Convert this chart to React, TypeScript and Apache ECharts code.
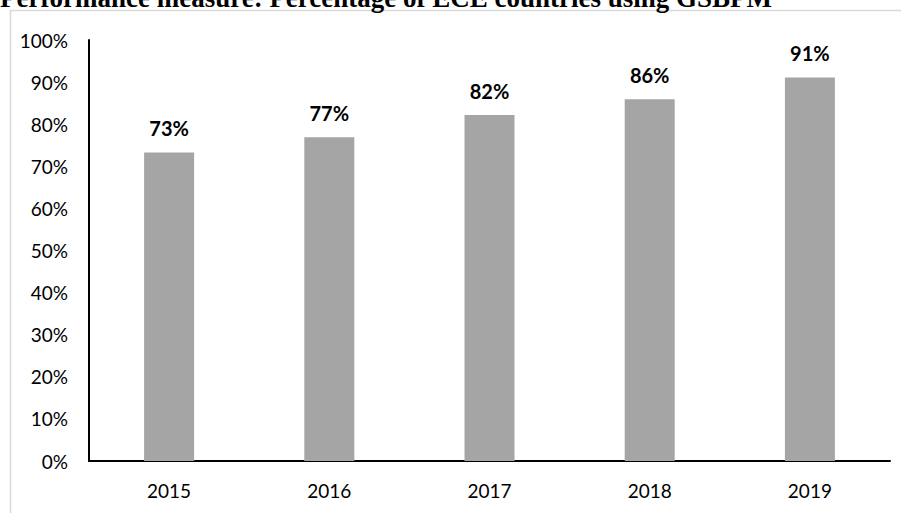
import React, { useEffect, useRef } from "react";
import * as echarts from "echarts";

const titleText = "Performance measure: Percentage of ECE countries using GSBPM";
const categories = ["2015", "2016", "2017", "2018", "2019"];
const values = [73.3, 76.9, 82.2, 85.9, 91.1];

export default function App() {
  const ref = useRef<HTMLDivElement>(null);
  useEffect(() => {
    if (!ref.current) return;
    const chart = echarts.init(ref.current, null, { renderer: "svg" });
    chart.setOption({
      animation: false,
      backgroundColor: "#ffffff",
      graphic: [
        {
          type: "rect",
          z: -1,
          shape: { x: 10.5, y: 10.5, width: 1000, height: 1000 },
          style: { fill: "none", stroke: "#d9d9d9", lineWidth: 1.5 },
        },
        {
          type: "text",
          x: 0,
          y: -2,
          style: {
            text: titleText,
            font: "bold 27px 'Liberation Serif', 'Times New Roman', serif",
            fill: "#000000",
            verticalAlign: "middle",
            align: "left",
          },
        },
      ],
      grid: { left: 89, top: 40, width: 801, height: 421, containLabel: false },
      xAxis: {
        type: "category",
        data: categories,
        axisTick: { show: false },
        axisLine: { show: true, lineStyle: { color: "#000000", width: 2 } },
        axisLabel: {
          color: "#000000",
          fontFamily: "Lato",
          fontSize: 19,
          margin: 20,
        },
      },
      yAxis: {
        type: "value",
        min: 0,
        max: 100,
        interval: 10,
        splitLine: { show: false },
        axisTick: { show: false },
        axisLine: { show: true, lineStyle: { color: "#000000", width: 2 } },
        axisLabel: {
          formatter: "{value}%",
          color: "#000000",
          fontFamily: "Lato",
          fontSize: 19,
          margin: 21,
        },
      },
      series: [
        {
          type: "bar",
          data: values,
          barWidth: 50,
          itemStyle: { color: "#a5a5a5" },
          label: {
            show: true,
            position: "top",
            distance: 14,
            formatter: (p: any) => Math.round(p.value) + "%",
            color: "#000000",
            fontFamily: "Lato",
            fontWeight: "bold",
            fontSize: 20,
          },
        },
      ],
    });
    return () => chart.dispose();
  }, []);
  return (
    <div
      ref={ref}
      style={{ position: "absolute", left: 0, top: 0, width: 901, height: 513 }}
    />
  );
}
